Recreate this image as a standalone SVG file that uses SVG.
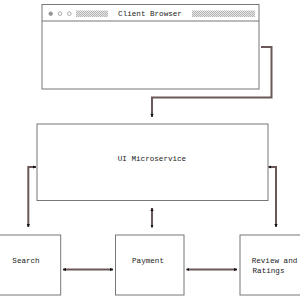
<svg xmlns="http://www.w3.org/2000/svg" width="300" height="300" viewBox="0 0 300 300">
<defs>
<pattern id="chk" width="2" height="2" patternUnits="userSpaceOnUse">
<rect width="2" height="2" fill="#e6e6e6"/>
<rect width="1" height="1" fill="#b4b4b4"/>
<rect x="1" y="1" width="1" height="1" fill="#b4b4b4"/>
</pattern>
<marker id="ah" viewBox="0 0 6 6" refX="5.5" refY="3" markerWidth="3.2" markerHeight="3.2" orient="auto-start-reverse" markerUnits="userSpaceOnUse">
<path d="M0,0 L6,3 L0,6 z" fill="#111"/>
</marker>
<style>
.box{fill:#fff;stroke:#777;stroke-width:1}
.t{font-family:"Liberation Mono","DejaVu Sans Mono",monospace;font-size:7.6px;fill:#222;text-anchor:middle}
.c{fill:none;stroke:#6a5858;stroke-width:2}
</style>
</defs>
<rect width="300" height="300" fill="#fff"/>
<g id="browser">
<rect class="box" x="42" y="4.5" width="217" height="84.5"/>
<line x1="42" y1="21" x2="259" y2="21" stroke="#777" stroke-width="1"/>
<circle cx="50.7" cy="13.7" r="1.8" fill="#999" stroke="#777" stroke-width="0.6"/>
<circle cx="60" cy="13.7" r="1.8" fill="#fff" stroke="#777" stroke-width="0.6"/>
<circle cx="69.3" cy="13.7" r="1.8" fill="#fff" stroke="#777" stroke-width="0.6"/>
<rect x="76" y="10.5" width="32" height="6.5" fill="url(#chk)"/>
<rect x="192" y="10.5" width="63" height="6.5" fill="url(#chk)"/>
<text class="t" x="150" y="16.3">Client Browser</text>
</g>
<g id="ui">
<rect class="box" x="37" y="124" width="231" height="76.5"/>
<text class="t" x="152" y="160.5">UI Microservice</text>
</g>
<g id="search">
<rect class="box" x="-5" y="235" width="65.7" height="60"/>
<text class="t" x="26" y="263">Search</text>
</g>
<g id="payment">
<rect class="box" x="115.5" y="235" width="68.5" height="60"/>
<text class="t" x="148" y="263">Payment</text>
</g>
<g id="review">
<rect class="box" x="240" y="235" width="70" height="60"/>
<text class="t" x="274.5" y="263">Review and</text>
<text class="t" x="268.5" y="272.5">Ratings</text>
</g>
<g id="connectors">
<path class="c" d="M261,47 H271.5 V97.5 H152 V117" marker-end="url(#ah)"/>
<path class="c" d="M28.3,227 V167 H36" marker-start="url(#ah)" marker-end="url(#ah)"/>
<path class="c" d="M276,227 V167 H268.5" marker-start="url(#ah)" marker-end="url(#ah)"/>
<path class="c" d="M152,208 V227.5" marker-start="url(#ah)" marker-end="url(#ah)"/>
<path class="c" d="M63,269.5 H113" marker-start="url(#ah)" marker-end="url(#ah)"/>
<path class="c" d="M186.5,269.5 H237" marker-start="url(#ah)" marker-end="url(#ah)"/>
</g>
</svg>
